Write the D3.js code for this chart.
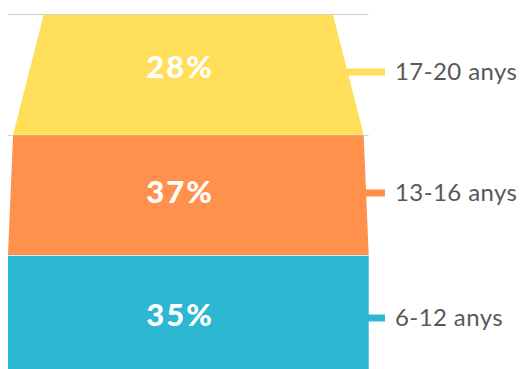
<!DOCTYPE html>
<html>
<head>
<meta charset="utf-8">
<script src="https://cdn.jsdelivr.net/npm/d3@7"></script>
<style>
  html, body { margin: 0; padding: 0; background: #fff; }
  svg { display: block; }
</style>
</head>
<body>
<svg id="chart" width="520" height="369"></svg>
<script>
// ---- data (top to bottom) ----
const categories = ["17-20 anys", "13-16 anys", "6-12 anys"];
const values = [28, 37, 35];
const colors = ["#FFDE59", "#FF914D", "#2DB7D2"];
// relative width of each slice at its top and bottom edge
const topRatio = [0.802, 0.972, 1.0];
const bottomRatio = [0.972, 1.0, 1.0];
const gridLevels = [0, 1]; // slice boundaries carrying a grey rule

const svg = d3.select("#chart");

const y = d3.scaleLinear().domain([0, categories.length]).range([14.3, 375.5]);
const x = d3.scaleLinear().domain([-0.5, 0.5]).range([8, 368.7]);

const slices = categories.map((c, i) => ({
  cat: c, value: values[i], color: colors[i],
  t: topRatio[i], b: bottomRatio[i], i
}));

// grey rules behind
svg.append("g").selectAll("line").data(gridLevels).join("line")
  .attr("x1", x(-0.5)).attr("x2", x(0.5))
  .attr("y1", d => Math.round(y(d)) + 0.5).attr("y2", d => Math.round(y(d)) + 0.5)
  .attr("stroke", "#cfcfcf").attr("stroke-width", 1);

// slices
svg.append("g").selectAll("path").data(slices).join("path")
  .attr("d", d => {
    const y0 = y(d.i) + (d.i > 0 ? 0.6 : 0.4), y1 = y(d.i + 1);
    return d3.line()([
      [x(-d.t / 2), y0], [x(d.t / 2), y0],
      [x(d.b / 2), y1], [x(-d.b / 2), y1]
    ]) + "Z";
  })
  .attr("fill", d => d.color);

// value labels
const labelOffset = [-7.5, -3.5, -0.5];
svg.append("g").selectAll("text").data(slices).join("text")
  .attr("x", 180)
  .attr("y", d => (y(d.i) + y(d.i + 1)) / 2 + labelOffset[d.i])
  .attr("dy", "0.36em")
  .attr("text-anchor", "middle")
  .attr("font-family", "Lato, sans-serif")
  .attr("font-weight", 900)
  .attr("font-size", 31)
  .attr("letter-spacing", 2)
  .attr("fill", "#fff")
  .text(d => d.value + "%");

// connectors + category labels
const connY = [72, 193, 318];
const edgeX = (d, yy) => {
  const f = (yy - y(d.i)) / (y(d.i + 1) - y(d.i));
  return x((d.t + (d.b - d.t) * f) / 2);
};
svg.append("g").selectAll("line").data(slices).join("line")
  .attr("x1", d => edgeX(d, connY[d.i]) - 1)
  .attr("x2", 385)
  .attr("y1", d => connY[d.i]).attr("y2", d => connY[d.i])
  .attr("stroke", d => d.color).attr("stroke-width", 7);

svg.append("g").selectAll("text").data(slices).join("text")
  .attr("x", 395)
  .attr("y", d => connY[d.i] - 1)
  .attr("dy", "0.36em")
  .attr("font-family", "Lato, sans-serif")
  .attr("font-size", 24)
  .attr("letter-spacing", 0.4)
  .attr("fill", "#58595B")
  .text(d => d.cat);
</script>
</body>
</html>
